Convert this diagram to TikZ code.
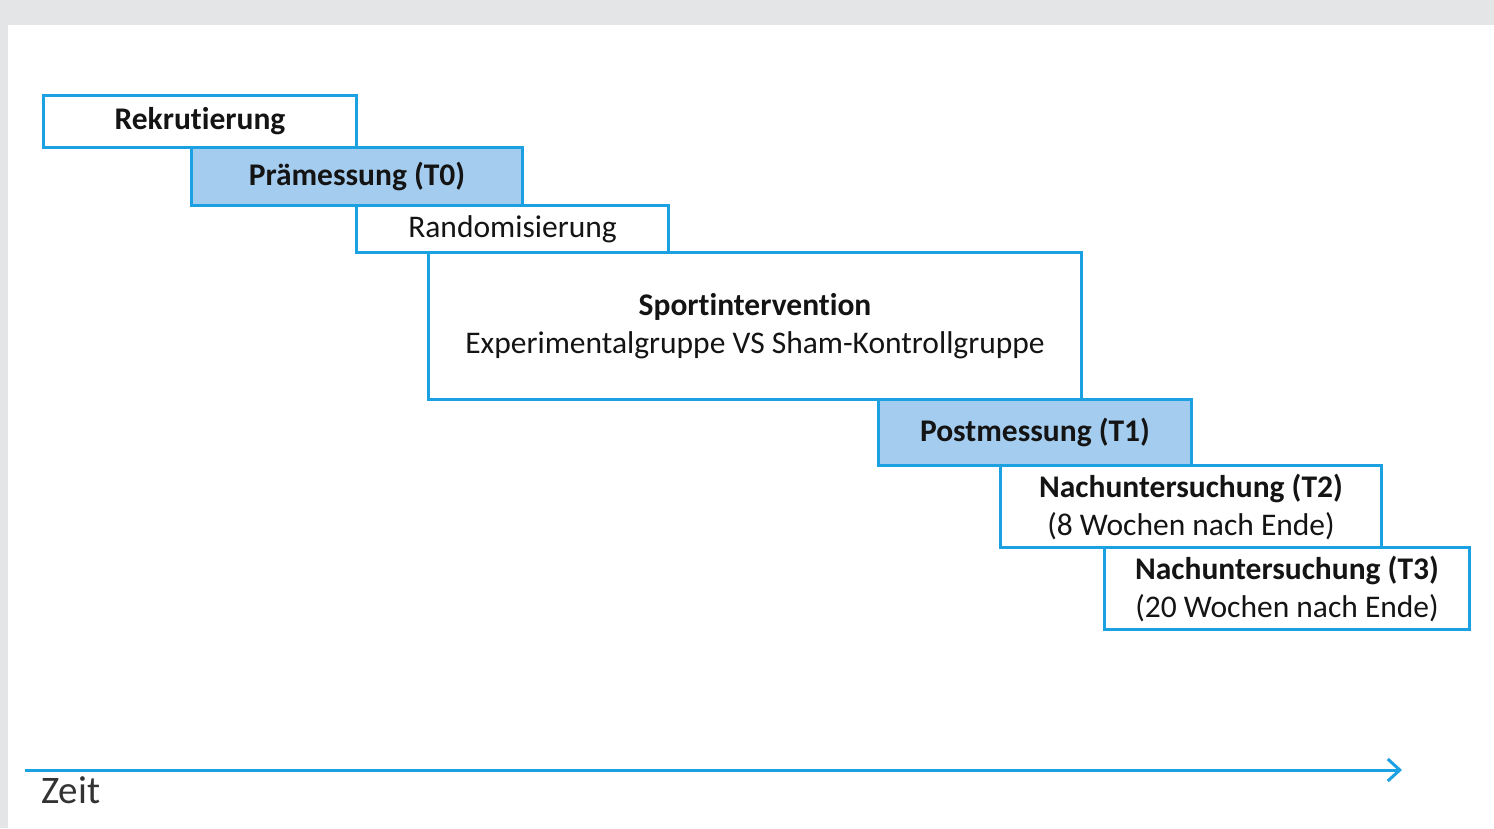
\documentclass[tikz,border=0pt]{standalone}
\usepackage{fontspec}
\setmainfont{Carlito}[Ligatures=NoCommon]
\usetikzlibrary{arrows.meta}
\definecolor{bblue}{HTML}{1BA1E2}
\definecolor{lblue}{HTML}{A4CCEE}
\definecolor{bggray}{HTML}{E4E5E7}
\definecolor{txt}{HTML}{141414}
\tikzset{
  stage/.style={draw=bblue, line width=3pt, fill=white, anchor=north west, inner sep=0pt, text=txt, align=center, font=\fontsize{31.5}{38}\selectfont},
  hl/.style={fill=lblue},
}
\begin{document}
\begin{tikzpicture}[x=1pt,y=-1pt]
\useasboundingbox (0,0) rectangle (1494,828);
\fill[bggray] (0,0) rectangle (1494,828);
\fill[white] (8,25) rectangle (1494,828);
\node[stage, minimum width=313pt, minimum height=52pt] (rek) at (42,94) {\textbf{Rekrutierung}};
\node[stage, hl, minimum width=331pt, minimum height=58pt] (pre) at (190,146) {\textbf{Prämessung (T0)}};
\node[stage, minimum width=312pt, minimum height=47pt] (ran) at (355,204) {Randomisierung};
\node[stage, minimum width=653pt, minimum height=147pt] (spo) at (427,251) {\textbf{Sportintervention}\\Experimentalgruppe VS Sham-Kontrollgruppe};
\node[stage, hl, minimum width=313pt, minimum height=66pt] (post) at (877,398) {\textbf{Postmessung (T1)}};
\node[stage, minimum width=381pt, minimum height=82pt] (t2) at (999,464) {\textbf{Nachuntersuchung (T2)}\\(8 Wochen nach Ende)};
\node[stage, minimum width=365pt, minimum height=82pt] (t3) at (1103,546) {\textbf{Nachuntersuchung (T3)}\\(20 Wochen nach Ende)};
\coordinate (a0) at (25,770);
\coordinate (a1) at (1402,770);
\draw[bblue, line width=3pt, -{Straight Barb[length=12pt,width=22pt,line width=3pt]}] (a0) -- (a1);
\node[anchor=base west, inner sep=0pt, text=black!80, font=\fontsize{39}{42}\selectfont] (zeit) at (41,803) {Zeit};
\end{tikzpicture}
\end{document}
